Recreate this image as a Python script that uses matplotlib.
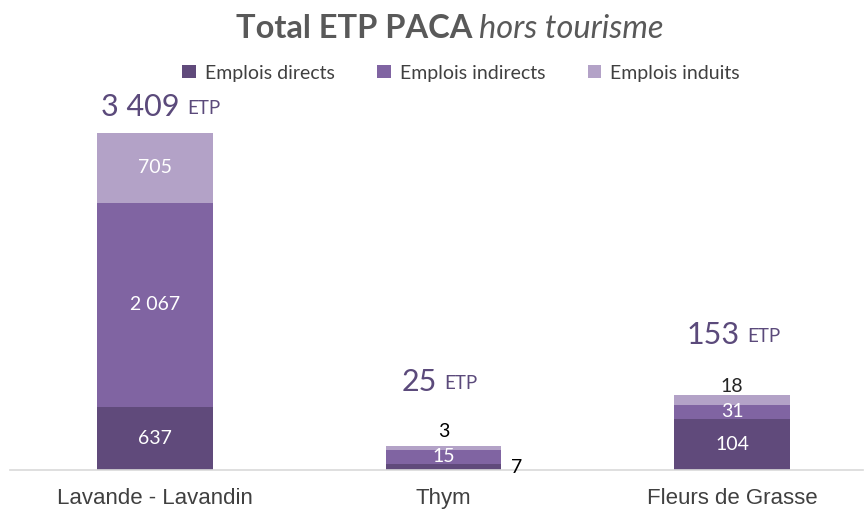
import matplotlib
matplotlib.use("Agg")
import matplotlib.pyplot as plt
from matplotlib.patches import Patch

# ---- data ----
categories = ["Lavande - Lavandin", "Thym", "Fleurs de Grasse"]
series_names = ["Emplois directs", "Emplois indirects", "Emplois induits"]
# values shown in labels
directs = [637, 7, 104]
indirects = [2067, 15, 31]
induits = [705, 3, 18]
totals = ["3 409", "25", "153"]
# bar heights as drawn in the picture (small bars are visually enlarged)
h_directs = [637, 62, 515]
h_indirects = [2067, 142, 145]
h_induits = [705, 40, 101]

colors = ["#604A7B", "#8064A2", "#B3A2C7"]

W, H = 864, 511
fig = plt.figure(figsize=(W / 100, H / 100), dpi=100)

def px(x0, y0):
    return x0 / W, 1 - y0 / H

base_y = 470
top_y = 100
scale = 337 / 3409
ax = fig.add_axes([10 / W, (H - base_y) / H, (863 - 10) / W, (base_y - top_y) / H])
ax.set_ylim(0, (base_y - top_y) / scale)
ax.set_xlim(-145 / 288.5, 2 + (863 - 732) / 288.5)
for s in ["top", "right", "left"]:
    ax.spines[s].set_visible(False)
ax.spines["bottom"].set_color("#D9D9D9")
ax.spines["bottom"].set_linewidth(1.2)
ax.set_yticks([])
x = list(range(len(categories)))
ax.set_xticks(x)
ax.set_xticklabels(categories, fontsize=16, color="#404040", family="Liberation Sans")
ax.tick_params(axis="x", length=0, pad=13)

width = 0.402
bottoms = [0, 0, 0]
bars = []
for hs, c in zip([h_directs, h_indirects, h_induits], colors):
    b = ax.bar(x, hs, width, bottom=bottoms, color=c, edgecolor="none")
    bars.append(b)
    bottoms = [bb + hh for bb, hh in zip(bottoms, hs)]

vals = [directs, indirects, induits]
def fmt(v):
    return f"{v:,}".replace(",", " ")

lab_font = dict(family="Lato", fontsize=14)
# inside labels
for si, (b, vs) in enumerate(zip(bars, vals)):
    for ci, (rect, v) in enumerate(zip(b, vs)):
        cx = rect.get_x() + rect.get_width() / 2
        cy = rect.get_y() + rect.get_height() / 2
        if ci == 1 and si == 0:
            ax.annotate(fmt(v), (rect.get_x() + rect.get_width(), rect.get_y()),
                        xytext=(11, 2), textcoords="offset points", ha="center", va="center",
                        color="black", **lab_font)
        elif ci == 1 and si == 2:
            ax.annotate(fmt(v), (cx, rect.get_y() + rect.get_height()),
                        xytext=(0, 10), textcoords="offset points", ha="center", va="center",
                        color="black", **lab_font)
        elif ci == 2 and si == 2:
            ax.annotate(fmt(v), (cx, rect.get_y() + rect.get_height()),
                        xytext=(0, 6), textcoords="offset points", ha="center", va="center",
                        color="#262626", **lab_font)
        else:
            ax.text(cx, cy, fmt(v), ha="center", va="center", color="white", **lab_font)

# totals
tot_offsets = [(29, 19), (-2, 46), (12, 43)]  # (x split offset px, y offset pt above top)
for ci, t in enumerate(totals):
    topv = bottoms[ci]
    dx, dy = tot_offsets[ci]
    ax.annotate(t, (ci, topv), xytext=(dx * 0.72 - 3, dy), textcoords="offset points",
                ha="right", va="center", color="#5B4A7B", fontsize=22,
                family="Lato")
    ax.annotate("ETP", (ci, topv), xytext=(dx * 0.72 + 2, dy - 1), textcoords="offset points",
                ha="left", va="center", color="#5B4A7B", fontsize=13.5, family="Lato")

# title
fig.text(*px(472, 38), "Total ETP PACA", ha="right", va="baseline", fontsize=23.5,
         fontweight="bold", color="#595959", family="Lato")
fig.text(*px(479, 38), "hors tourisme", ha="left", va="baseline", fontsize=23.5,
         style="italic", color="#595959", family="Lato")

handles = [Patch(facecolor=c, edgecolor="none") for c in colors]
fig.legend(handles, series_names, loc="center", bbox_to_anchor=px(461, 73), ncol=3,
           frameon=False, prop=dict(family="Lato", size=14), labelcolor="#404040",
           handlelength=0.7, handleheight=0.7, handletextpad=0.45, columnspacing=2.2)

fig.savefig("out.png", dpi=100)
